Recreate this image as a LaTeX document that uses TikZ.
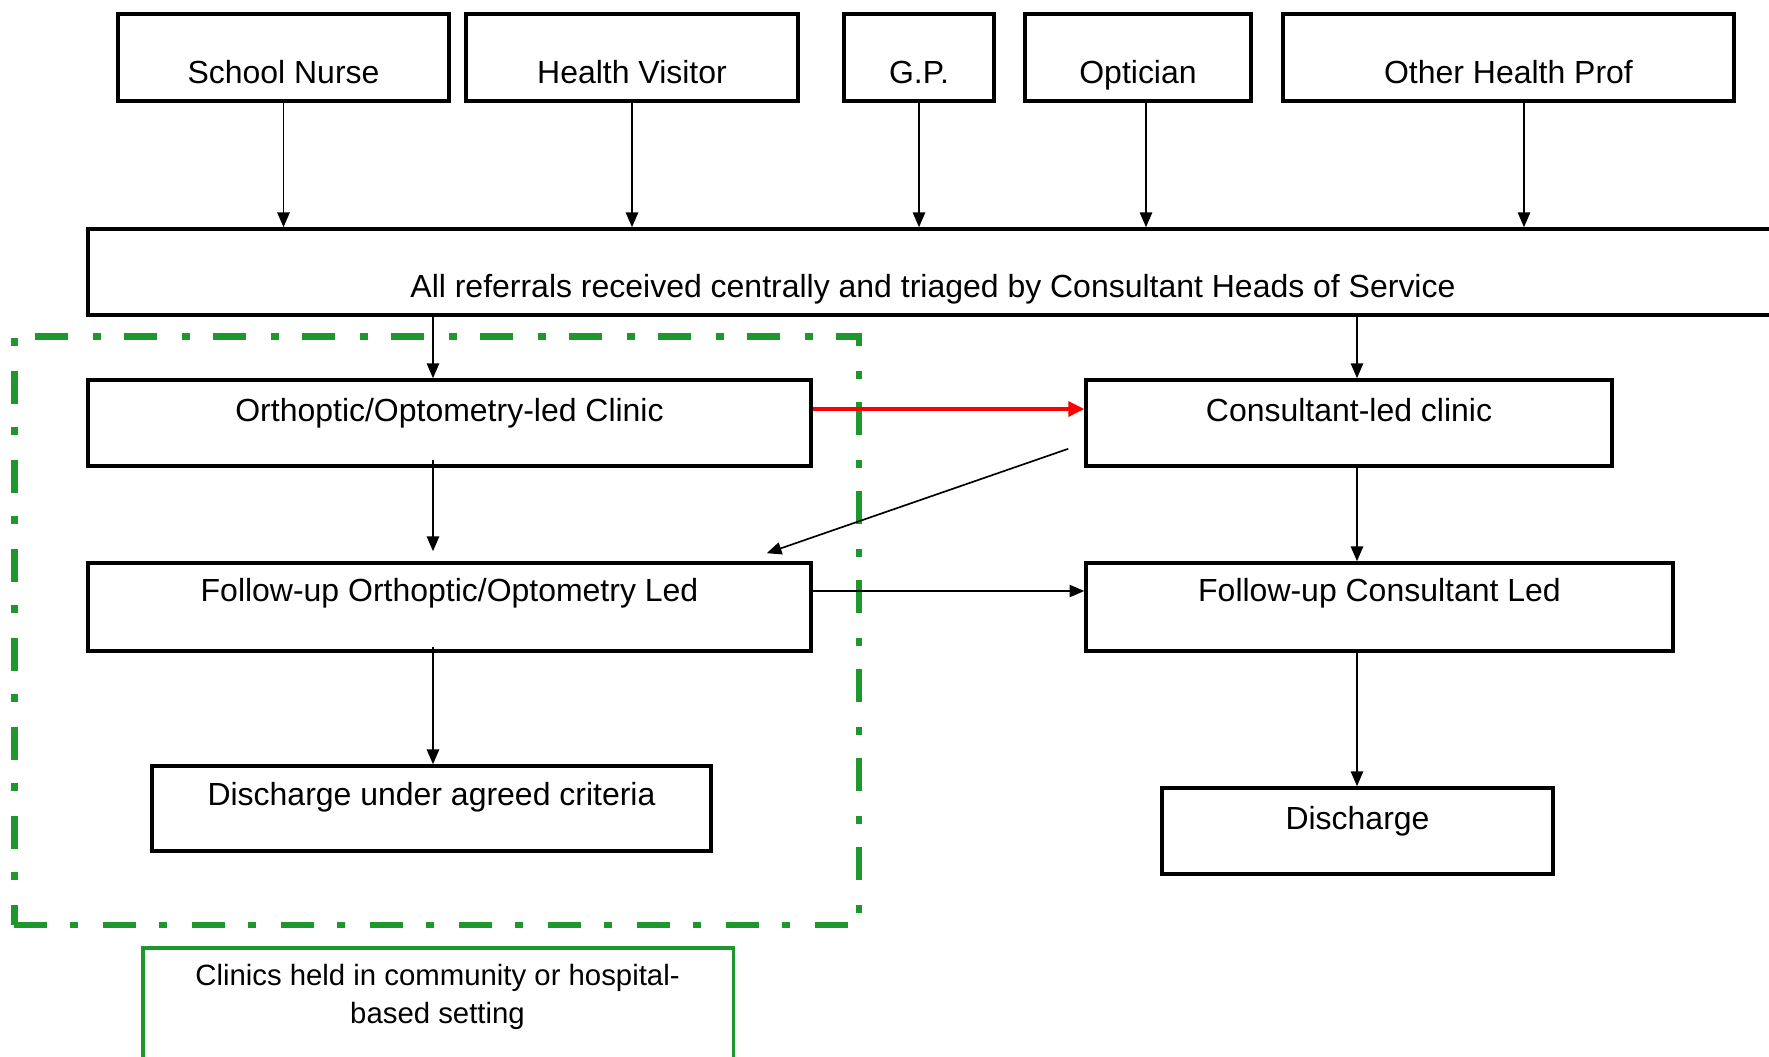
\documentclass[tikz,border=0pt]{standalone}
\usepackage{fontspec}
\setmainfont{Liberation Sans}
\usetikzlibrary{arrows.meta,calc}
\newdimen\pxu \pxu=0.569055pt
\definecolor{zgreen}{RGB}{30,152,45}
\definecolor{zred}{RGB}{255,0,0}
\begin{document}
\begin{tikzpicture}[x=0.02cm,y=-0.02cm,
  box/.style={draw=black, line width=2.05pt, inner sep=0pt, anchor=base, font=\fontsize{18.2}{21}\selectfont},
  arr/.style={draw=black, line width=0.95pt, -{Triangle[length=8.4pt,width=7pt]}},
  redarr/.style={draw=zred, line width=2pt, -{Triangle[length=9.1pt,width=8.5pt]}},
  zone/.style={draw=zgreen, line width=3.7pt, inner sep=0pt, dash pattern=on 18.78pt off 13.09pt on 4.55pt off 14.23pt},
  gbox/.style={draw=zgreen, line width=2pt, inner sep=0pt}]
\useasboundingbox (0,0) rectangle (1769,1056);
\clip (0,0) rectangle (1769,1056);

% column coordinates
\coordinate (c433) at (433,0);
\coordinate (c1357) at (1357,0);
\coordinate (c1146) at (1146,0);
\coordinate (c1524) at (1524,0);

% green zone
\node[zone, minimum width=845\pxu, minimum height=589\pxu, anchor=north west] (zn) at (11,333) {};

% top boxes
\node[box, minimum width=331\pxu, text height=69\pxu, text depth=18\pxu] (sn) at (283.5,83) {School Nurse};
\node[box, minimum width=332\pxu, text height=69\pxu, text depth=18\pxu] (hv) at (632,83) {Health Visitor};
\node[box, minimum width=150\pxu, text height=69\pxu, text depth=18\pxu] (gp) at (919,83) {G.P.};
\node[box, minimum width=226\pxu, text height=69\pxu, text depth=18\pxu] (op) at (1138,83) {Optician};
\node[box, minimum width=451\pxu, text height=69\pxu, text depth=18\pxu] (oh) at (1508.5,83) {Other Health Prof};

% central box
\node[box, minimum width=1690\pxu, text height=68\pxu, text depth=18\pxu] (main) at (933,297) {All referrals received centrally and triaged by Consultant Heads of Service};

% clinic boxes
\node[box, minimum width=723\pxu, text height=41\pxu, text depth=45\pxu] (ortho) at (449.5,421) {Orthoptic/Optometry-led Clinic};
\node[box, minimum width=526\pxu, text height=41\pxu, text depth=45\pxu] (cons) at (1349,421) {Consultant-led clinic};
\node[box, minimum width=723\pxu, text height=38\pxu, text depth=50\pxu] (fuo) at (449.5,601) {Follow-up Orthoptic/Optometry Led};
\node[box, minimum width=587\pxu, text height=38\pxu, text depth=50\pxu] (fuc) at (1379.5,601) {Follow-up Consultant Led};
\node[box, minimum width=559\pxu, text height=39\pxu, text depth=46\pxu] (dac) at (431.5,805) {Discharge under agreed criteria};
\node[box, minimum width=391\pxu, text height=41\pxu, text depth=45\pxu] (dis) at (1357.5,829) {Discharge};

% green note box
\node[gbox, minimum width=591\pxu, minimum height=130\pxu, anchor=north west] (gb) at (141,946) {};
\node[anchor=north, inner sep=0pt, align=center, font=\fontsize{16.7}{21.6}\selectfont] (gt) at (437.5,964) {Clinics held in community or hospital-\\based setting};

% connectors
\draw[arr] (sn.south) -- (sn.south |- main.north);
\draw[arr] (hv.south) -- (hv.south |- main.north);
\draw[arr] (gp.south) -- (gp.south |- main.north);
\draw[arr] (c1146 |- op.south) -- (c1146 |- main.north);
\draw[arr] (c1524 |- oh.south) -- (c1524 |- main.north);

\draw[arr] (c433 |- main.south) -- (c433 |- ortho.north);
\draw[arr] (c1357 |- main.south) -- (c1357 |- cons.north);

\draw[arr] ($(c433 |- ortho.south)+(0,-8)$) -- ($(c433 |- fuo.north)+(0,-10)$);
\coordinate (r1) at ($(ortho.east)+(0,-14)$);
\draw[redarr] (r1) -- (r1 -| cons.west);
\draw[arr] ($(cons.south west)+(-16,-19)$) -- ($(fuo.north east)+(-46,-8)$);
\coordinate (r2) at ($(fuo.east)+(0,-16)$);
\draw[arr] (r2) -- (r2 -| fuc.west);
\draw[arr] (c1357 |- cons.south) -- (c1357 |- fuc.north);
\draw[arr] ($(c433 |- fuo.south)+(0,-6)$) -- (c433 |- dac.north);
\draw[arr] (c1357 |- fuc.south) -- (c1357 |- dis.north);
\end{tikzpicture}
\end{document}
